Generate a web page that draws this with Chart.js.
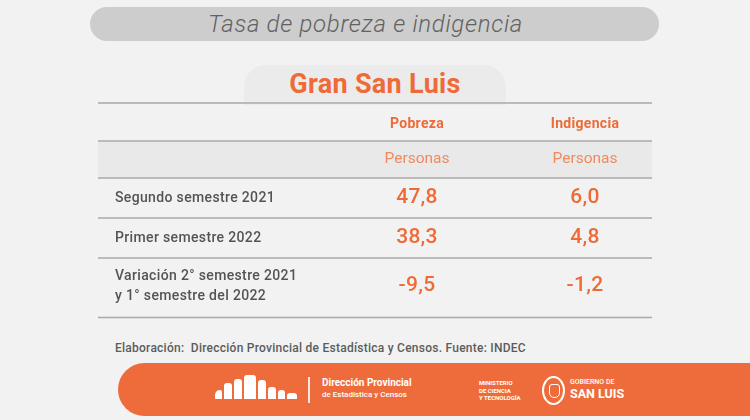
<!DOCTYPE html>
<html lang="es">
<head>
<meta charset="utf-8">
<script src="https://cdn.jsdelivr.net/npm/chart.js@4.4.1/dist/chart.umd.min.js"></script>
<style>
  html, body { margin:0; padding:0; }
  body { width:750px; height:420px; overflow:hidden; background:#f1f2f1; font-family:Roboto, "Open Sans", sans-serif; position:relative; }
  .pill { position:absolute; left:90px; top:7px; width:551px; padding-right:18px; height:34px; border-radius:17px; background:#cdcdcd;
          text-align:center; line-height:34px; font-style:italic; font-weight:300; font-size:24px; letter-spacing:0.7px; color:#626262; }
  .tab { position:absolute; left:244px; top:65px; width:262px; height:40px; border-radius:22px 22px 0 0; background:#ebebeb;
         text-align:center; line-height:38px; font-weight:700; font-size:27px; color:#ef6a36; letter-spacing:0.3px; }
  #wrap { position:absolute; left:90px; top:95px; width:570px; height:230px; }
  .source { position:absolute; left:115px; top:341px; font-size:12px; letter-spacing:0.25px; font-weight:500; color:#5c5c5c; white-space:nowrap; }
  .banner { position:absolute; left:118px; top:363px; width:632px; height:53px; border-radius:27px 0 0 27px; background:#ee6c3b; }
  .w { position:absolute; color:#fff; white-space:nowrap; }
  .blk { position:absolute; background:#fff; border-radius:3px 3px 0 0; bottom:0; }
</style>
</head>
<body>
<div class="pill">Tasa de pobreza e indigencia</div>
<div class="tab">Gran San Luis</div>
<div id="wrap"><canvas id="c" width="570" height="230"></canvas></div>
<div class="source">Elaboración:&nbsp; Dirección Provincial de Estadística y Censos. Fuente: INDEC</div>
<div class="banner">
  <div style="position:absolute;left:97px;top:12px;width:82px;height:24px;">
    <div class="blk" style="left:0px;width:7px;height:9px;border-radius:5px 2px 0 0;"></div>
    <div class="blk" style="left:9px;width:8px;height:16px;"></div>
    <div class="blk" style="left:19px;width:8px;height:20px;"></div>
    <div class="blk" style="left:29px;width:12px;height:24px;"></div>
    <div class="blk" style="left:43px;width:8px;height:19px;"></div>
    <div class="blk" style="left:53px;width:8px;height:12px;"></div>
    <div class="blk" style="left:63px;width:7px;height:9px;"></div>
    <div class="blk" style="left:72px;width:10px;height:6px;"></div>
  </div>
  <div style="position:absolute;left:190px;top:14px;width:2px;height:26px;background:#fff;opacity:.85;"></div>
  <div class="w" style="left:204px;top:14px;font-size:10px;font-weight:700;">Dirección Provincial</div>
  <div class="w" style="left:204px;top:27px;font-size:8px;font-weight:500;">de Estadística y Censos</div>
  <div class="w" style="left:361px;top:16px;font-size:6px;font-weight:700;line-height:7.5px;">MINISTERIO<br>DE CIENCIA<br>Y TECNOLOGÍA</div>
  <div style="position:absolute;left:424px;top:13px;width:19px;height:25px;border:2px solid #fff;border-radius:50%;">
    <div style="position:absolute;left:5px;top:6px;width:9px;height:12px;border:1.5px solid #fff;border-radius:3px 3px 5px 5px;"></div>
  </div>
  <div class="w" style="left:452px;top:15px;font-size:7px;font-weight:500;">GOBIERNO DE</div>
  <div class="w" style="left:452px;top:23px;font-size:12.5px;font-weight:700;">SAN LUIS</div>
</div>

<script>
// ---- data ----
const categories = ['Segundo semestre 2021', 'Primer semestre 2022', ['Variación 2° semestre 2021', 'y 1° semestre del 2022']];
const seriesNames = ['Pobreza', 'Indigencia'];
const unitLabels = ['Personas', 'Personas'];
const pobreza = [47.8, 38.3, -9.5];
const indigencia = [6.0, 4.8, -1.2];

// ---- layout (in scale units of the canvas) ----
const layout = {
  left: 8, right: 562,
  rowEdges: [8, 46, 83, 123, 163, 222.5],
  labelX: 25,
  colX: [327, 495]
};
const rowCenter = i => (layout.rowEdges[i] + layout.rowEdges[i + 1]) / 2;
const fmt = v => v.toFixed(1).replace('.', ',');

const styles = {
  head:  { font: '700 14px Roboto', color: '#ef6a36', dy: 2, ls: '0.3px' },
  unit:  { font: '400 15.5px Roboto', color: '#f08a5f', dy: 0, ls: '0px' },
  value: { font: '500 21px Roboto', color: '#ef6a36', dy: 0, ls: '0.3px' },
  label: { font: '500 14px Roboto', color: '#545454', dy: 0, lh: 19.5, ls: '0.35px' }
};

const series = [pobreza, indigencia];
const datasets = [{
  label: 'Categorías', align: 'left',
  data: categories.map((t, i) => ({ x: layout.labelX, y: rowCenter(i + 2) - (Array.isArray(t) ? 1.5 : 0), text: t, kind: 'label' }))
}].concat(series.map((vals, c) => ({
  label: seriesNames[c], align: 'center',
  data: [
    { x: layout.colX[c], y: rowCenter(0), text: seriesNames[c], kind: 'head' },
    { x: layout.colX[c], y: rowCenter(1), text: unitLabels[c], kind: 'unit' }
  ].concat(vals.map((v, i) => ({ x: layout.colX[c], y: rowCenter(i + 2) - (i === 2 ? 2 : 0), text: fmt(v), kind: 'value' })))
})));

const tablePlugin = {
  id: 'tablePlugin',
  beforeDatasetsDraw(chart) {
    const { ctx, scales: { x, y } } = chart;
    const l = x.getPixelForValue(layout.left), r = x.getPixelForValue(layout.right);
    ctx.save();
    const y1 = y.getPixelForValue(layout.rowEdges[1]), y2 = y.getPixelForValue(layout.rowEdges[2]);
    ctx.fillStyle = '#e8e9e8';
    ctx.fillRect(l, y1, r - l, y2 - y1);
    ctx.strokeStyle = '#a9a9a9';
    ctx.lineWidth = 1.5;
    layout.rowEdges.forEach(e => {
      const py = y.getPixelForValue(e);
      ctx.beginPath(); ctx.moveTo(l, py); ctx.lineTo(r, py); ctx.stroke();
    });
    ctx.restore();
  },
  afterDatasetsDraw(chart) {
    const { ctx } = chart;
    ctx.save();
    ctx.textBaseline = 'middle';
    chart.data.datasets.forEach((ds, di) => {
      const meta = chart.getDatasetMeta(di);
      meta.data.forEach((pt, i) => {
        const d = ds.data[i];
        const st = styles[d.kind];
        ctx.font = st.font;
        if ('letterSpacing' in ctx) ctx.letterSpacing = st.ls;
        ctx.fillStyle = st.color;
        ctx.textAlign = ds.align;
        const lines = Array.isArray(d.text) ? d.text : [d.text];
        const lh = st.lh || 20;
        lines.forEach((t, k) => ctx.fillText(t, pt.x, pt.y + st.dy + (k - (lines.length - 1) / 2) * lh));
      });
    });
    ctx.restore();
  }
};

new Chart(document.getElementById('c'), {
  type: 'scatter',
  data: { datasets },
  options: {
    responsive: false,
    animation: false,
    devicePixelRatio: 1,
    layout: { padding: 0, autoPadding: false },
    events: [],
    elements: { point: { radius: 0, hoverRadius: 0 } },
    plugins: { legend: { display: false }, tooltip: { enabled: false } },
    scales: {
      x: { type: 'linear', min: 0, max: 570, display: false },
      y: { type: 'linear', min: 0, max: 230, reverse: true, display: false }
    }
  },
  plugins: [tablePlugin]
});
</script>
</body>
</html>
